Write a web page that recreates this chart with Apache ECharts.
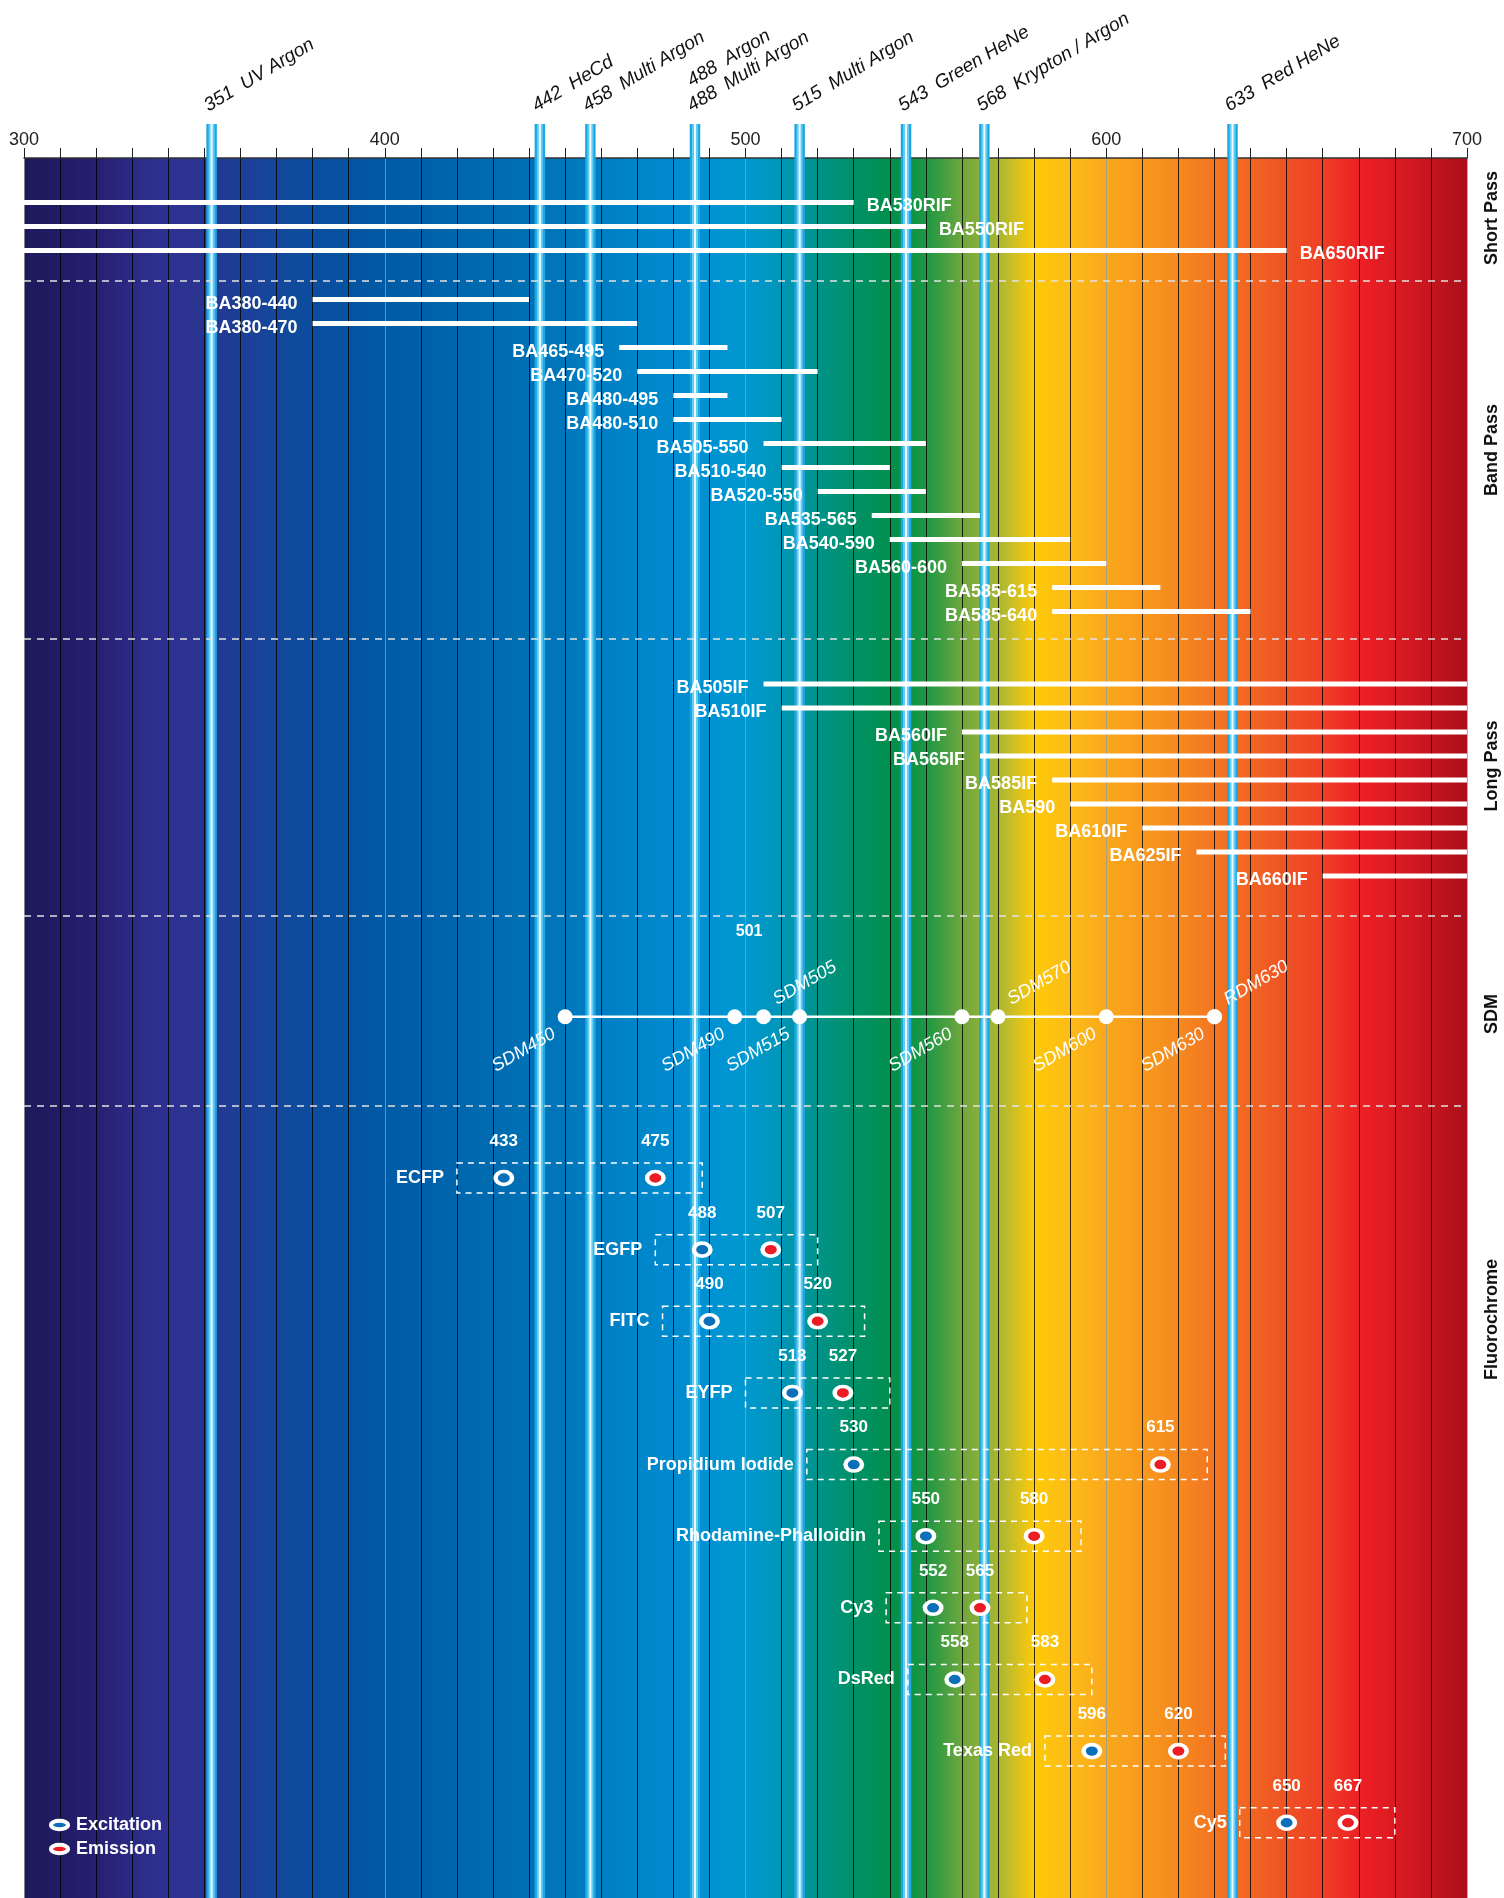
<!DOCTYPE html>
<html>
<head>
<meta charset="utf-8">
<title>Filters, lasers and fluorochromes</title>
<script src="https://cdn.jsdelivr.net/npm/echarts@6/dist/echarts.min.js"></script>
<style>
html, body { margin: 0; padding: 0; background: #fff; }
#myChart { width: 1504px; height: 1898px; }
</style>
</head>
<body>
<div id="myChart"></div>
<script>
// wavelength axis (nm)
const axisMin = 300
const axisMax = 700
const axisStep = 10

// laser lines (position as drawn in the picture) and their labels
const laserNm = [352, 443, 457, 486, 515, 544.5, 566.2, 635]
const laserText = [
  ['351  UV Argon'],
  ['442  HeCd'],
  ['458  Multi Argon'],
  ['488  Multi Argon', '488  Argon'],
  ['515  Multi Argon'],
  ['543  Green HeNe'],
  ['568  Krypton / Argon'],
  ['633  Red HeNe']
]

// short pass filters: pass everything below the edge
const shortPassNames = ['BA530RIF', 'BA550RIF', 'BA650RIF']
const shortPassEdge = [530, 550, 650]

// band pass filters
const bandPassNames = ['BA380-440', 'BA380-470', 'BA465-495', 'BA470-520', 'BA480-495', 'BA480-510', 'BA505-550',
  'BA510-540', 'BA520-550', 'BA535-565', 'BA540-590', 'BA560-600', 'BA585-615', 'BA585-640']
const bandPassLow = [380, 380, 465, 470, 480, 480, 505, 510, 520, 535, 540, 560, 585, 585]
const bandPassHigh = [440, 470, 495, 520, 495, 510, 550, 540, 550, 565, 590, 600, 615, 640]

// long pass filters: pass everything above the edge
const longPassNames = ['BA505IF', 'BA510IF', 'BA560IF', 'BA565IF', 'BA585IF', 'BA590', 'BA610IF', 'BA625IF', 'BA660IF']
const longPassEdge = [505, 510, 560, 565, 585, 590, 610, 625, 660]

// dichroic mirrors
const sdmNames = ['SDM450', 'SDM490', 'SDM505', 'SDM515', 'SDM560', 'SDM570', 'SDM600', 'SDM630', 'RDM630']
const sdmNm = [450, 497, 505, 515, 560, 570, 600, 630, 630]
const sdmSide = ['below', 'below', 'above', 'below', 'below', 'above', 'below', 'below', 'above']
const sdmNoteNm = 501
const sdmNoteText = '501'

// fluorochromes
const fluoroNames = ['ECFP', 'EGFP', 'FITC', 'EYFP', 'Propidium Iodide', 'Rhodamine-Phalloidin', 'Cy3', 'DsRed', 'Texas Red', 'Cy5']
const excitation = [433, 488, 490, 513, 530, 550, 552, 558, 596, 650]
const emission = [475, 507, 520, 527, 615, 580, 565, 583, 620, 667]

const sectionNames = ['Short Pass', 'Band Pass', 'Long Pass', 'SDM', 'Fluorochrome']

// spectrum colours behind the plot
const spectrumNm = [300, 310, 320, 330, 340, 350, 360, 370, 380, 390, 400, 410, 420, 430, 440, 450, 460, 470, 480, 490, 500,
  510, 520, 530, 540, 550, 560, 570, 575, 580, 590, 600, 610, 620, 630, 640, 650, 660, 670, 680, 690, 700]
const spectrumColors = ['#1f195c', '#211b65', '#25206f', '#2b2a85', '#2f3193', '#28358f', '#1c3f96', '#14479b', '#0c4d9e',
  '#0553a1', '#005aa5', '#0060a9', '#0066ad', '#006bb0', '#0070b4', '#0077bb', '#007ec3', '#0085c9', '#008bce', '#0092d3',
  '#0098cf', '#0096b8', '#009389', '#009168', '#008f4c', '#1c9643', '#6ea73e', '#a7b632', '#d4c022', '#fdca08', '#fdbb18',
  '#faa81c', '#f8991d', '#f5891f', '#f37521', '#f16523', '#ef5224', '#ee4025', '#ed2025', '#dc1a22', '#c5151e', '#aa0f19']

// layout (rows of 24px on a hidden y axis)
const ROWS = 72.5
const LASER_TOP_ROW = -1.42
const LASER_LABEL_ROW = -1.78
const SP_ROW = 1.85
const BP_ROW = 5.9
const LP_ROW = 21.92
const SDM_ROW = 35.78
const SDM_NOTE_ROW = 32.25
const FLUORO_ROW = 42.5
const FLUORO_STEP = 2.985
const SEPARATOR_ROWS = [5.125, 20.04, 31.58, 39.5]
const SECTION_ROWS = [2.5, 12.17, 25.33, 35.67, 48.4]
const BOX_PAD = 13

const FONT = '"Liberation Sans", Arial, Helvetica, sans-serif'
const TILT = 31 * Math.PI / 180
const SDM_TILT = 30 * Math.PI / 180
const ELLIPSE = 'path://M0,10A20,10,0,1,1,40,10A20,10,0,1,1,0,10Z'

const fluoroRow = i => FLUORO_ROW + i * FLUORO_STEP

const filterRows = []
shortPassNames.forEach((n, i) => filterRows.push({ name: n, from: axisMin, to: shortPassEdge[i], row: SP_ROW + i, side: 'right' }))
bandPassNames.forEach((n, i) => filterRows.push({ name: n, from: bandPassLow[i], to: bandPassHigh[i], row: BP_ROW + i, side: 'left' }))
longPassNames.forEach((n, i) => filterRows.push({ name: n, from: longPassEdge[i], to: axisMax, row: LP_ROW + i, side: 'left' }))

function renderSpectrum (params, api) {
  const a = api.coord([axisMin, 0])
  const b = api.coord([axisMax, ROWS])
  const stops = spectrumNm.map((nm, i) => ({ offset: (nm - axisMin) / (axisMax - axisMin), color: spectrumColors[i] }))
  return {
    type: 'rect',
    shape: { x: a[0], y: a[1], width: b[0] - a[0], height: b[1] - a[1] },
    style: { fill: new echarts.graphic.LinearGradient(0, 0, 1, 0, stops) }
  }
}

function renderLaser (params, api) {
  const i = params.dataIndex
  const top = api.coord([api.value(0), LASER_TOP_ROW])
  const bottom = api.coord([api.value(0), ROWS])
  const x = top[0]
  const shape = { x1: x, y1: top[1], x2: x, y2: bottom[1] }
  const children = [
    { type: 'line', shape: shape, style: { stroke: '#1ea6e0', lineWidth: 10.5 } },
    { type: 'line', shape: shape, style: { stroke: '#62ccf5', lineWidth: 6 } },
    { type: 'line', shape: shape, style: { stroke: '#eafaff', lineWidth: 2 } }
  ]
  const anchor = api.coord([api.value(0), LASER_LABEL_ROW])
  laserText[i].forEach((txt, k) => {
    children.push({
      type: 'text',
      x: anchor[0] - 1,
      y: anchor[1] - k * 25,
      rotation: TILT,
      style: { text: txt, fill: '#111', fontSize: 19, fontStyle: 'italic', fontFamily: FONT, align: 'left', verticalAlign: 'bottom' }
    })
  })
  return { type: 'group', children: children }
}

function renderSeparator (params, api) {
  const a = api.coord([axisMin, api.value(1)])
  const b = api.coord([axisMax, api.value(1)])
  return {
    type: 'line',
    shape: { x1: a[0], y1: a[1], x2: b[0], y2: b[1] },
    style: { stroke: '#e2e2e2', lineWidth: 1.5, lineDash: [7, 6] }
  }
}

function renderSection (params, api) {
  const p = api.coord([axisMax, api.value(1)])
  return {
    type: 'text',
    x: p[0] + 25,
    y: p[1],
    rotation: Math.PI / 2,
    style: { text: sectionNames[params.dataIndex], fill: '#111', fontSize: 18, fontWeight: 'bold', fontFamily: FONT, align: 'center', verticalAlign: 'middle' }
  }
}

function renderFilter (params, api) {
  const f = filterRows[params.dataIndex]
  const a = api.coord([f.from, f.row])
  const b = api.coord([f.to, f.row])
  const onRight = f.side === 'right'
  return {
    type: 'group',
    children: [
      { type: 'line', shape: { x1: a[0], y1: a[1], x2: b[0], y2: b[1] }, style: { stroke: '#fff', lineWidth: 5 } },
      {
        type: 'text',
        x: onRight ? b[0] + 13 : a[0] - 15,
        y: a[1] + 4,
        style: { text: f.name, fill: '#fff', fontSize: 18, fontWeight: 'bold', fontFamily: FONT, align: onRight ? 'left' : 'right', verticalAlign: 'middle' }
      }
    ]
  }
}

function renderSdm (params, api) {
  const i = params.dataIndex
  const p = api.coord([sdmNm[i], SDM_ROW])
  const children = []
  if (i === 0) {
    const a = api.coord([Math.min(...sdmNm), SDM_ROW])
    const b = api.coord([Math.max(...sdmNm), SDM_ROW])
    const n = api.coord([sdmNoteNm, SDM_NOTE_ROW])
    children.push({ type: 'line', shape: { x1: a[0], y1: a[1], x2: b[0], y2: b[1] }, style: { stroke: '#fff', lineWidth: 2.5 } })
    children.push({
      type: 'text', x: n[0], y: n[1],
      style: { text: sdmNoteText, fill: '#fff', fontSize: 16, fontWeight: 'bold', fontFamily: FONT, align: 'center', verticalAlign: 'middle' }
    })
  }
  children.push({ type: 'circle', shape: { cx: p[0], cy: p[1], r: 7.5 }, style: { fill: '#fff' } })
  const below = sdmSide[i] === 'below'
  children.push({
    type: 'text',
    x: p[0] + (below ? -11 : 11),
    y: p[1] + (below ? 16 : -16),
    rotation: SDM_TILT,
    style: { text: sdmNames[i], fill: '#fff', fontSize: 18, fontStyle: 'italic', fontFamily: FONT, align: below ? 'right' : 'left', verticalAlign: 'middle' }
  })
  return { type: 'group', children: children }
}

function renderFluoroBox (params, api) {
  const i = params.dataIndex
  const row = fluoroRow(i)
  const a = api.coord([excitation[i] - BOX_PAD, row])
  const b = api.coord([emission[i] + BOX_PAD, row])
  return {
    type: 'group',
    children: [
      {
        type: 'rect',
        shape: { x: a[0], y: a[1] - 15, width: b[0] - a[0], height: 30 },
        style: { fill: 'rgba(0,0,0,0)', stroke: '#fff', lineWidth: 1.5, lineDash: [6, 5] }
      },
      {
        type: 'text', x: a[0] - 13, y: a[1],
        style: { text: fluoroNames[i], fill: '#fff', fontSize: 18, fontWeight: 'bold', fontFamily: FONT, align: 'right', verticalAlign: 'middle' }
      }
    ]
  }
}

function markerSeries (name, values, color) {
  return {
    name: name,
    type: 'scatter',
    z: 8,
    symbol: ELLIPSE,
    symbolSize: [16.5, 13],
    data: values.map((v, i) => [v, fluoroRow(i)]),
    itemStyle: { color: color, borderColor: '#fff', borderWidth: 4, opacity: 1 },
    label: {
      show: true,
      position: 'top',
      distance: 20,
      formatter: p => String(p.value[0]),
      color: '#fff',
      fontSize: 17,
      fontWeight: 'bold',
      fontFamily: FONT
    },
    emphasis: { disabled: true },
    silent: true
  }
}

function Init () {
  const myChart = echarts.init(document.getElementById('myChart'))
  // grid lines: grey every 100 nm, black every 10 nm
  const gridColors = ['#9a9a9a', '#000', '#000', '#000', '#000', '#000', '#000', '#000', '#000', '#000']
  const option = {
    animation: false,
    backgroundColor: '#fff',
    grid: { left: 24, right: 37, top: 158, bottom: 0 },
    legend: {
      orient: 'vertical',
      left: 44,
      top: 1811,
      icon: ELLIPSE,
      itemWidth: 17,
      itemHeight: 13,
      itemGap: 6,
      selectedMode: false,
      data: ['Excitation', 'Emission'],
      itemStyle: { borderColor: '#fff', borderWidth: 4 },
      textStyle: { color: '#fff', fontSize: 18, fontWeight: 'bold', fontFamily: FONT, padding: [0, 0, 0, 3] }
    },
    xAxis: {
      type: 'value',
      position: 'top',
      min: axisMin,
      max: axisMax,
      interval: axisStep,
      axisLine: { show: true, lineStyle: { color: '#333', width: 1.5 } },
      axisTick: { show: true, length: 10, lineStyle: { color: '#222', width: 1 } },
      axisLabel: {
        formatter: v => (v % 100 === 0 ? String(v) : ''),
        fontSize: 18,
        color: '#222',
        fontFamily: FONT,
        margin: 9
      },
      splitLine: { show: true, lineStyle: { color: gridColors, width: 1, opacity: 0.8 } }
    },
    yAxis: { type: 'value', min: 0, max: ROWS, inverse: true, show: false },
    series: [
      { type: 'custom', z: -1, silent: true, data: [[axisMin, 0]], renderItem: renderSpectrum },
      { type: 'custom', z: 1, silent: true, data: laserNm.map(v => [v, 0]), renderItem: renderLaser },
      { type: 'custom', z: 3, silent: true, data: SEPARATOR_ROWS.map(r => [axisMin, r]), renderItem: renderSeparator },
      { type: 'custom', z: 3, silent: true, data: SECTION_ROWS.map(r => [axisMax, r]), renderItem: renderSection },
      { type: 'custom', z: 4, silent: true, data: filterRows.map(f => [f.from, f.row, f.to]), renderItem: renderFilter },
      { type: 'custom', z: 4, silent: true, data: sdmNm.map(v => [v, SDM_ROW]), renderItem: renderSdm },
      { type: 'custom', z: 5, silent: true, data: excitation.map((v, i) => [v, fluoroRow(i), emission[i]]), renderItem: renderFluoroBox },
      markerSeries('Excitation', excitation, '#0b6fba'),
      markerSeries('Emission', emission, '#ec1c24')
    ]
  }
  myChart.setOption(option)
  window.addEventListener('resize', () => {
    myChart.resize()
  })
}

Init()
</script>
</body>
</html>
